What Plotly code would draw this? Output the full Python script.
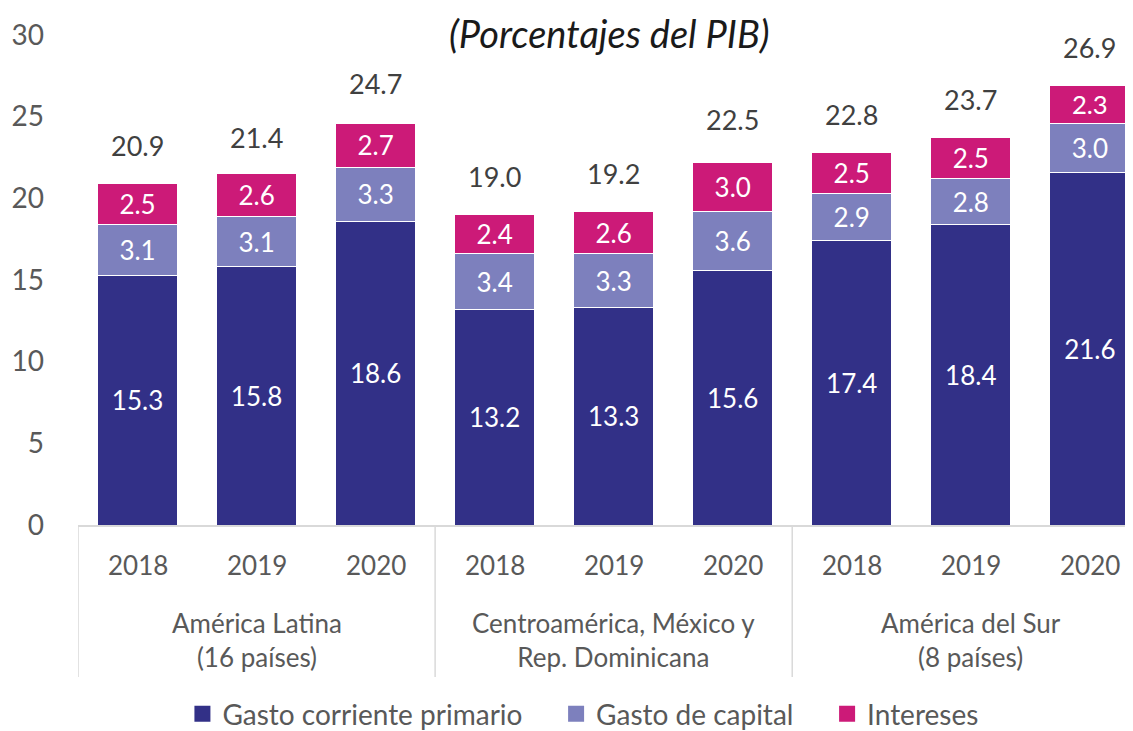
import plotly.graph_objects as go

years = ["2018", "2019", "2020"] * 3
groups = ["América Latina<br>(16 países)", "Centroamérica, México y<br>Rep. Dominicana", "América del Sur<br>(8 países)"]
corriente = [15.3, 15.8, 18.6, 13.2, 13.3, 15.6, 17.4, 18.4, 21.6]
capital = [3.1, 3.1, 3.3, 3.4, 3.3, 3.6, 2.9, 2.8, 3.0]
intereses = [2.5, 2.6, 2.7, 2.4, 2.6, 3.0, 2.5, 2.5, 2.3]
totales = [20.9, 21.4, 24.7, 19.0, 19.2, 22.5, 22.8, 23.7, 26.9]

FONT = "Lato"
GRIS = "#595959"
x = list(range(len(years)))
pad = "\u00a0" * 4

fig = go.Figure()
series = [
    ("Gasto corriente primario", corriente, "#323087"),
    ("Gasto de capital", capital, "#7D80BD"),
    ("Intereses", intereses, "#CC1A78"),
]
for name, vals, col in series:
    fig.add_trace(go.Bar(
        x=x, y=vals, name=name, marker_color=col, showlegend=False,
        marker_line_color="white", marker_line_width=1,
        width=0.67, text=[f"{v:.1f}" for v in vals], textposition="inside",
        insidetextanchor="middle", textangle=0,
        textfont=dict(color="white", size=26, family=FONT),
    ))
# legend entries with bigger square swatches
for k, (name, vals, col) in enumerate(series):
    label = name + (pad if k < len(series) - 1 else "")
    fig.add_trace(go.Scatter(x=[None], y=[None], mode="markers", name=label,
                             marker=dict(symbol="square", size=20, color=col)))

for i, t in enumerate(totales):
    fig.add_annotation(x=i, y=t, text=f"{t:.1f}", showarrow=False, yshift=38,
                       font=dict(size=27, color="#404040", family=FONT))

# year labels and group labels (two-level category axis)
for i, yr in enumerate(years):
    fig.add_annotation(x=i, y=0, yref="y", text=yr, showarrow=False, yshift=-40,
                       font=dict(size=26, color=GRIS, family=FONT))
for g, lab in enumerate(groups):
    fig.add_annotation(x=g * 3 + 1, y=0, yref="y", text=lab, showarrow=False, yshift=-115,
                       font=dict(size=26, color=GRIS, family=FONT))
for b in [-0.5, 2.5, 5.5, 8.5]:
    fig.add_shape(type="line", xref="x", yref="paper", x0=b, x1=b, y0=0, y1=-0.31,
                  line=dict(color="#D9D9D9", width=1.5))

# chart subtitle, pinned to the top edge of the figure
fig.add_annotation(xref="paper", yref="paper", x=0.5, y=1 + 27 / 498, yanchor="top",
                   text="<i>(Porcentajes del PIB)</i>", showarrow=False,
                   font=dict(size=38, color="#1a1a1a", family=FONT))

fig.update_layout(
    width=1133, height=731, barmode="stack", bargap=0.33,
    plot_bgcolor="white", paper_bgcolor="white",
    margin=dict(l=70, r=0, t=27, b=206),
    font=dict(family=FONT, size=24, color=GRIS),
    xaxis=dict(range=[-0.5, 8.43], showticklabels=False, showgrid=False, zeroline=False,
               showline=True, linecolor="#D9D9D9", linewidth=1.5),
    yaxis=dict(range=[0, 30], dtick=5, showgrid=False, zeroline=False, showline=False,
               ticks="", tickfont=dict(size=28, color=GRIS), ticklabelstandoff=33),
    legend=dict(orientation="h", x=0.475, xanchor="center", y=-0.386, yanchor="middle",
                font=dict(size=28, color=GRIS), traceorder="normal", itemwidth=30),
    showlegend=True,
)
fig.write_html("out.html")
